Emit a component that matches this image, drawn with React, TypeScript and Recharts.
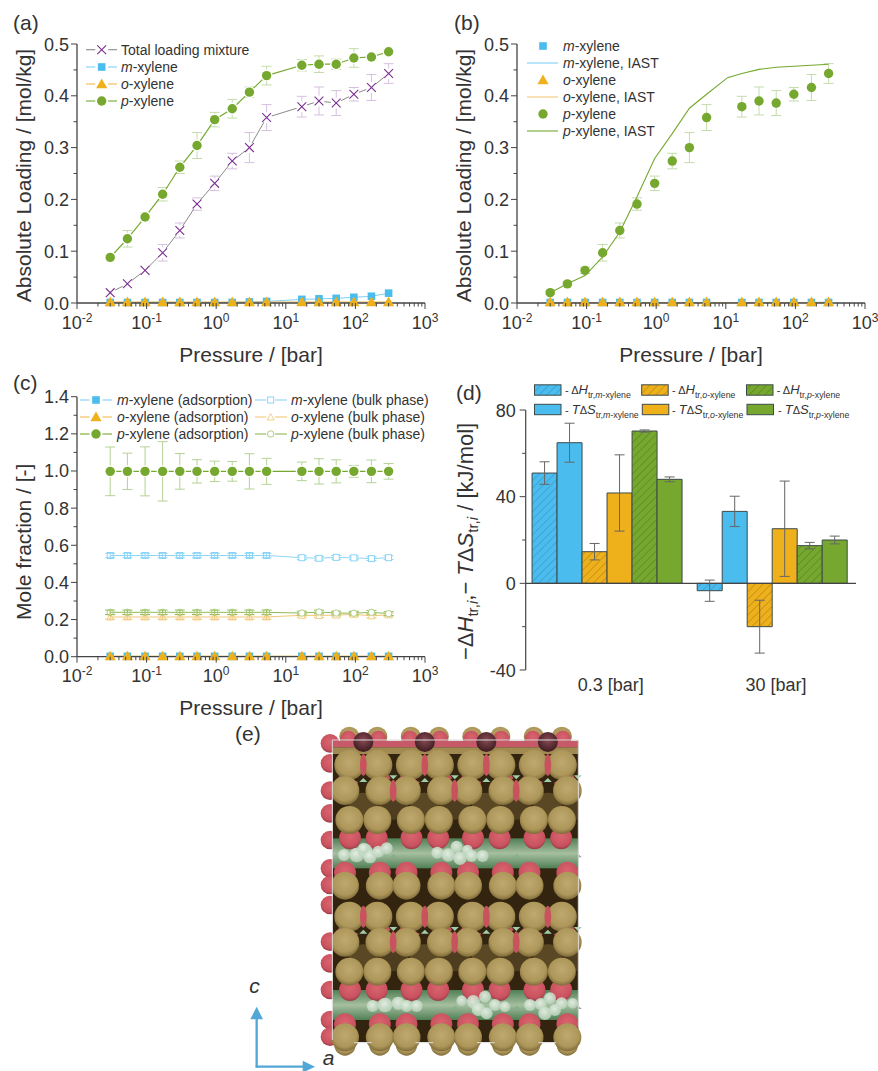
import { LineChart, Line, XAxis, YAxis, BarChart, Bar, ErrorBar, ReferenceLine } from 'recharts'

const FONT = '"Liberation Sans", Arial, sans-serif'
const INK = '#333333'
const AXIS = '#444444'
const BLUE = '#4bbcee'
const ORANGE = '#eeb11c'
const GREEN = '#76a82f'
const PURPLE = '#7b2f90'

const pressures = [0.03, 0.053, 0.095, 0.17, 0.3, 0.53, 0.95, 1.7, 3, 5.3, 17, 30, 53, 95, 170, 300]

// panel (a)
const totalLoading = [0.02, 0.037, 0.063, 0.097, 0.14, 0.191, 0.231, 0.274, 0.3, 0.358, 0.379, 0.39, 0.386, 0.403, 0.416, 0.443]
const totalErr = [0.003, 0.004, 0.006, 0.016, 0.0145, 0.012, 0.014, 0.015, 0.029, 0.025, 0.02, 0.027, 0.024, 0.013, 0.025, 0.019]
const pLoading = [0.088, 0.124, 0.166, 0.21, 0.262, 0.304, 0.354, 0.375, 0.407, 0.439, 0.459, 0.461, 0.461, 0.473, 0.475, 0.485]
const pErr = [0.004, 0.016, 0.008, 0.013, 0.012, 0.025, 0.014, 0.018, 0.01, 0.018, 0.011, 0.016, 0.01, 0.018, 0.006, 0.005]
const mLoading = [0.001, 0.001, 0.001, 0.001, 0.001, 0.001, 0.001, 0.001, 0.002, 0.003, 0.007, 0.008, 0.009, 0.011, 0.013, 0.019]
const oLoading = [0.002, 0.002, 0.002, 0.002, 0.002, 0.002, 0.002, 0.002, 0.002, 0.002, 0.002, 0.002, 0.002, 0.002, 0.002, 0.002]

// panel (b)
const mFlat = [0.001, 0.001, 0.001, 0.001, 0.001, 0.001, 0.001, 0.001, 0.001, 0.001, 0.001, 0.001, 0.001, 0.001, 0.001, 0.001]
const iastPressures = [0.03, 0.053, 0.095, 0.17, 0.3, 0.53, 0.95, 1.7, 3, 5.3, 10.6, 17, 30, 53, 95, 170, 300]
const iastP = [0.02, 0.037, 0.053, 0.089, 0.137, 0.205, 0.279, 0.327, 0.376, 0.403, 0.435, 0.443, 0.451, 0.455, 0.457, 0.459, 0.461]
const iastM = [0.001, 0.001, 0.001, 0.001, 0.001, 0.001, 0.001, 0.001, 0.001, 0.001, 0.001, 0.001, 0.001, 0.001, 0.001, 0.001, 0.002]
const iastO = [0.001, 0.001, 0.001, 0.001, 0.001, 0.001, 0.001, 0.001, 0.001, 0.001, 0.001, 0.001, 0.001, 0.001, 0.001, 0.001, 0.001]

// panel (c)
const mAds = [0.002, 0.002, 0.002, 0.002, 0.002, 0.002, 0.002, 0.002, 0.002, 0.002, 0.002, 0.002, 0.002, 0.002, 0.002, 0.002]
const oAds = [0.003, 0.003, 0.003, 0.003, 0.003, 0.003, 0.003, 0.003, 0.003, 0.003, 0.003, 0.003, 0.003, 0.003, 0.003, 0.003]
const pAds = [0.998, 0.998, 0.998, 0.998, 0.998, 0.998, 0.998, 0.998, 0.998, 0.998, 0.998, 0.998, 0.998, 0.998, 0.998, 0.998]
const pAdsErr = [0.131, 0.098, 0.132, 0.16, 0.096, 0.063, 0.055, 0.053, 0.095, 0.07, 0.05, 0.068, 0.062, 0.032, 0.061, 0.042]
const mBulk = [0.545, 0.545, 0.545, 0.545, 0.545, 0.545, 0.545, 0.545, 0.545, 0.545, 0.533, 0.53, 0.535, 0.532, 0.528, 0.533]
const oBulk = [0.214, 0.214, 0.214, 0.214, 0.214, 0.214, 0.214, 0.214, 0.214, 0.214, 0.223, 0.222, 0.224, 0.228, 0.22, 0.225]
const pBulk = [0.239, 0.239, 0.239, 0.239, 0.239, 0.239, 0.239, 0.239, 0.239, 0.239, 0.235, 0.241, 0.235, 0.234, 0.239, 0.232]
const bulkErr = [0.012, 0.012, 0.012, 0.012, 0.012, 0.012, 0.012, 0.012, 0.012, 0.012, 0.01, 0.01, 0.01, 0.01, 0.01, 0.01]

// panel (d)
const conditions = ['0.3 [bar]', '30 [bar]']
const mH = [50.9, -3.4]
const mHErr = [5.2, 4.9]
const mS = [64.9, 33.2]
const mSErr = [9, 7]
const oH = [14.6, -20]
const oHErr = [3.8, 12.2]
const oS = [41.7, 25.2]
const oSErr = [17.6, 22]
const pH = [70.3, 17.4]
const pHErr = [0.5, 1.5]
const pS = [48, 20]
const pSErr = [1.1, 1.8]

const logDecades = [0.01, 0.1, 1, 10, 100]
const logDigits = [1, 2, 3, 4, 5, 6, 7, 8, 9]
const logTicks = [...logDecades.flatMap(d => logDigits.map(n => n * d)), 1000]
const loadingTicks = [0, 0.05, 0.1, 0.15, 0.2, 0.25, 0.3, 0.35, 0.4, 0.45, 0.5]
const fractionTicks = [0, 0.1, 0.2, 0.3, 0.4, 0.5, 0.6, 0.7, 0.8, 0.9, 1, 1.1, 1.2, 1.3, 1.4]
const enthalpyTicks = [-40, -20, 0, 20, 40, 60, 80]

const table = pressures.map((p, i) => ({
  p,
  total: totalLoading[i],
  totalErr: totalErr[i],
  pLoad: pLoading[i],
  pErr: pErr[i],
  mLoad: mLoading[i],
  oLoad: oLoading[i],
  mFlat: mFlat[i],
  mAds: mAds[i],
  oAds: oAds[i],
  pAds: pAds[i],
  pAdsErr: pAdsErr[i],
  mBulk: mBulk[i],
  oBulk: oBulk[i],
  pBulk: pBulk[i],
  bulkErr: bulkErr[i],
}))

const iastTable = iastPressures.map((p, i) => ({ p, iastP: iastP[i], iastM: iastM[i], iastO: iastO[i] }))

const barTable = conditions.map((c, i) => ({
  c,
  mH: mH[i], mHErr: mHErr[i],
  mS: mS[i], mSErr: mSErr[i],
  oH: oH[i], oHErr: oHErr[i],
  oS: oS[i], oSErr: oSErr[i],
  pH: pH[i], pHErr: pHErr[i],
  pS: pS[i], pSErr: pSErr[i],
}))

function Marker({ cx, cy, sym, color, open, halo, see }: any) {
  const inner = see ? 'none' : '#fff'
  let shape = null
  if (sym === 'circle') shape = <circle cx={cx} cy={cy} r={open ? 3.2 : 4.7} fill={open ? inner : color} stroke={open ? color : 'none'} strokeWidth={0.9} />
  if (sym === 'square') shape = open
    ? <rect x={cx - 3} y={cy - 3} width={6} height={6} fill={inner} stroke={color} strokeWidth={0.9} />
    : <rect x={cx - 3.8} y={cy - 3.8} width={7.6} height={7.6} fill={color} />
  if (sym === 'triangle') shape = open
    ? <path d={`M${cx - 3.6} ${cy + 3}L${cx + 3.6} ${cy + 3}L${cx} ${cy - 3.4}Z`} fill={inner} stroke={color} strokeWidth={0.9} />
    : <path d={`M${cx - 5.6} ${cy + 4.2}L${cx + 5.6} ${cy + 4.2}L${cx} ${cy - 5.4}Z`} fill={color} />
  if (sym === 'cross') shape = (
    <path d={`M${cx - 4.4} ${cy - 4.4}L${cx + 4.4} ${cy + 4.4}M${cx - 4.4} ${cy + 4.4}L${cx + 4.4} ${cy - 4.4}`} stroke={color} strokeWidth={1.1} fill="none" />
  )
  return (
    <g>
      {halo && <circle cx={cx} cy={cy} r={halo} fill="#fff" />}
      {shape}
    </g>
  )
}

const dotOf = (sym: string, color: string, open = false, halo = 0) => (props: any) => (
  <Marker key={props.index} cx={props.cx} cy={props.cy} sym={sym} color={color} open={open} halo={halo} see={open && props.index < 10} />
)

function LogTick({ x, y, payload }: any) {
  const v = payload.value
  const e = Math.log10(v)
  const major = Math.abs(e - Math.round(e)) < 1e-6
  return (
    <g>
      <line x1={x} x2={x} y1={y} y2={y + (major ? 6 : 3.5)} stroke={AXIS} strokeWidth={1} />
      {major && (
        <text x={x} y={y + 25.5} textAnchor="middle" fontSize={18} fill={INK}>
          10<tspan dy={-7} fontSize={12}>{Math.round(e)}</tspan>
        </text>
      )}
    </g>
  )
}

const valueTick = (majors: number[], digits: number, gap = 8) => ({ x, y, payload }: any) => {
  const major = majors.includes(payload.value)
  return (
    <g>
      <line x1={x - (major ? 6 : 3.5)} x2={x} y1={y} y2={y} stroke={AXIS} strokeWidth={1} />
      {major && (
        <text x={x - gap} y={y + 6.5} textAnchor="end" fontSize={18} fill={INK}>
          {payload.value.toFixed(digits)}
        </text>
      )}
    </g>
  )
}

const BarLabelTick = ({ x, y, payload }: any) => (
  <text x={x + 2.5} y={y + 21} textAnchor="middle" fontSize={18} fill={INK}>{payload.value}</text>
)

const pressureAxis = (
  <XAxis
    dataKey="p"
    type="number"
    scale="log"
    domain={[0.01, 1000]}
    ticks={logTicks}
    interval={0}
    tick={LogTick}
    tickLine={false}
    tickSize={0}
    tickMargin={0}
    stroke={AXIS}
    strokeWidth={1.3}
    allowDataOverflow
    height={67}
  />
)

function PanelA() {
  return (
    <LineChart width={440} height={370} data={table} margin={{ top: 44, right: 15, left: 0, bottom: 0 }}>
      {pressureAxis}
      <YAxis type="number" domain={[0, 0.5]} ticks={loadingTicks} interval={0} width={77} tick={valueTick([0, 0.1, 0.2, 0.3, 0.4, 0.5], 1)} tickLine={false} tickSize={0} tickMargin={0} stroke={AXIS} strokeWidth={1.3} />
      <Line dataKey="total" stroke="#8a8a8a" strokeWidth={1} isAnimationActive={false} dot={dotOf('cross', PURPLE, false, 5.5)}>
        <ErrorBar dataKey="totalErr" direction="y" width={5} stroke="#d6c0e0" strokeWidth={1} />
      </Line>
      <Line dataKey="mLoad" stroke="#7fd0f5" strokeWidth={1} isAnimationActive={false} dot={dotOf('square', BLUE)} />
      <Line dataKey="oLoad" stroke="#f2bc55" strokeWidth={1} isAnimationActive={false} dot={dotOf('triangle', ORANGE)} />
      <Line dataKey="pLoad" stroke={GREEN} strokeWidth={1.2} isAnimationActive={false} dot={dotOf('circle', GREEN, false, 6)}>
        <ErrorBar dataKey="pErr" direction="y" width={5} stroke="#c4dcaa" strokeWidth={1} />
      </Line>
    </LineChart>
  )
}

function PanelB() {
  return (
    <LineChart width={438} height={370} data={table} margin={{ top: 44, right: 13, left: 0, bottom: 0 }}>
      {pressureAxis}
      <YAxis type="number" domain={[0, 0.5]} ticks={loadingTicks} interval={0} width={77} tick={valueTick([0, 0.1, 0.2, 0.3, 0.4, 0.5], 1)} tickLine={false} tickSize={0} tickMargin={0} stroke={AXIS} strokeWidth={1.3} />
      <Line dataKey="mFlat" stroke="none" isAnimationActive={false} dot={dotOf('square', BLUE)} />
      <Line data={iastTable} dataKey="iastM" stroke="#7fd0f5" strokeWidth={1} isAnimationActive={false} dot={false} />
      <Line dataKey="oLoad" stroke="none" isAnimationActive={false} dot={dotOf('triangle', ORANGE)} />
      <Line data={iastTable} dataKey="iastO" stroke="#f2c878" strokeWidth={1} isAnimationActive={false} dot={false} />
      <Line dataKey="total" stroke="none" isAnimationActive={false} dot={dotOf('circle', GREEN)}>
        <ErrorBar dataKey="totalErr" direction="y" width={5} stroke="#c4dcaa" strokeWidth={1} />
      </Line>
      <Line data={iastTable} dataKey="iastP" stroke={GREEN} strokeWidth={1.1} isAnimationActive={false} dot={false} />
    </LineChart>
  )
}

function PanelC() {
  return (
    <LineChart width={440} height={360} data={table} margin={{ top: 26.7, right: 15, left: 0, bottom: 0 }}>
      <XAxis
        dataKey="p"
        type="number"
        scale="log"
        domain={[0.01, 1000]}
        ticks={logTicks}
        interval={0}
        tick={LogTick}
        tickLine={false}
        tickSize={0}
        tickMargin={0}
        stroke={AXIS}
        strokeWidth={1.3}
        allowDataOverflow
        height={73.3}
      />
      <YAxis type="number" domain={[0, 1.4]} ticks={fractionTicks} interval={0} width={77} tick={valueTick([0, 0.2, 0.4, 0.6, 0.8, 1, 1.2, 1.4], 1)} tickLine={false} tickSize={0} tickMargin={0} stroke={AXIS} strokeWidth={1.3} />
      <Line dataKey="mBulk" stroke="#8fd6f6" strokeWidth={1} isAnimationActive={false} dot={dotOf('square', '#7fd0f5', true)}>
        <ErrorBar dataKey="bulkErr" direction="y" width={5} stroke="#8fd6f6" strokeWidth={1} />
      </Line>
      <Line dataKey="oBulk" stroke="#f2c878" strokeWidth={1} isAnimationActive={false} dot={dotOf('triangle', '#f2c878', true)}>
        <ErrorBar dataKey="bulkErr" direction="y" width={5} stroke="#f2c878" strokeWidth={1} />
      </Line>
      <Line dataKey="pBulk" stroke="#8fbb55" strokeWidth={1} isAnimationActive={false} dot={dotOf('circle', '#a3c873', true)}>
        <ErrorBar dataKey="bulkErr" direction="y" width={5} stroke="#8fbb55" strokeWidth={1} />
      </Line>
      <Line dataKey="mAds" stroke="#7fd0f5" strokeWidth={1} isAnimationActive={false} dot={dotOf('square', BLUE)} />
      <Line dataKey="oAds" stroke="#f2bc55" strokeWidth={1} isAnimationActive={false} dot={dotOf('triangle', ORANGE)} />
      <Line dataKey="pAds" stroke={GREEN} strokeWidth={1.2} isAnimationActive={false} dot={dotOf('circle', GREEN, false, 6)}>
        <ErrorBar dataKey="pAdsErr" direction="y" width={5} stroke="#b5d295" strokeWidth={1} />
      </Line>
    </LineChart>
  )
}

function Hatch({ id, base, line }: any) {
  return (
    <pattern id={id} width={5.5} height={5.5} patternUnits="userSpaceOnUse" patternTransform="rotate(45)">
      <rect width={5.5} height={5.5} fill={base} />
      <line x1={0} x2={0} y1={0} y2={5.5} stroke={line} strokeWidth={1} />
    </pattern>
  )
}

const barStroke = { stroke: '#3d4a4a', strokeWidth: 1 }
const errProps = { direction: 'y' as const, width: 5, stroke: '#666666', strokeWidth: 1 }

function PanelD() {
  return (
    <BarChart width={438} height={360} data={barTable} margin={{ top: 40, right: 22, left: 0, bottom: 0 }} barCategoryGap={6.35} barGap={0}>
      <defs>
        <Hatch id="hatchBlue" base={BLUE} line="#2f8fbf" />
        <Hatch id="hatchOrange" base={ORANGE} line="#a87c10" />
        <Hatch id="hatchGreen" base={GREEN} line="#4e7a1c" />
      </defs>
      <XAxis dataKey="c" axisLine={false} tickLine={false} tickSize={0} tickMargin={0} tick={BarLabelTick} height={60} interval={0} />
      <YAxis type="number" domain={[-40, 80]} ticks={enthalpyTicks} interval={0} width={85.7} tick={valueTick([-40, 0, 40, 80], 0, 10)} tickLine={false} tickSize={0} tickMargin={0} stroke={AXIS} strokeWidth={1.2} />
      <ReferenceLine y={0} stroke={AXIS} strokeWidth={1.2} />
      <Bar dataKey="mH" fill="url(#hatchBlue)" {...barStroke} isAnimationActive={false}><ErrorBar dataKey="mHErr" {...errProps} /></Bar>
      <Bar dataKey="mS" fill={BLUE} {...barStroke} isAnimationActive={false}><ErrorBar dataKey="mSErr" {...errProps} /></Bar>
      <Bar dataKey="oH" fill="url(#hatchOrange)" {...barStroke} isAnimationActive={false}><ErrorBar dataKey="oHErr" {...errProps} /></Bar>
      <Bar dataKey="oS" fill={ORANGE} {...barStroke} isAnimationActive={false}><ErrorBar dataKey="oSErr" {...errProps} /></Bar>
      <Bar dataKey="pH" fill="url(#hatchGreen)" {...barStroke} isAnimationActive={false}><ErrorBar dataKey="pHErr" {...errProps} /></Bar>
      <Bar dataKey="pS" fill={GREEN} {...barStroke} isAnimationActive={false}><ErrorBar dataKey="pSErr" {...errProps} /></Bar>
    </BarChart>
  )
}

const xyl = (prefix: string, rest = '-xylene') => (
  <>
    <tspan fontStyle="italic">{prefix}</tspan>{rest}
  </>
)

function Key({ x1, x2, sx, tx, y, stroke, sym, color, open, children }: any) {
  return (
    <g>
      {stroke && <line x1={x1} x2={x2} y1={y} y2={y} stroke={stroke} strokeWidth={1.1} />}
      {sym && <Marker cx={sx} cy={y} sym={sym} color={color} open={open} halo={stroke && !open ? 6.5 : stroke ? 4.5 : 0} />}
      <text x={tx} y={y + 5} fontSize={14} fill={INK}>{children}</text>
    </g>
  )
}

function Legends() {
  const a = { x1: 86, x2: 117, sx: 101.7, tx: 121 }
  const b = { x1: 527, x2: 558, sx: 543, tx: 563 }
  const c1 = { x1: 80, x2: 112, sx: 96, tx: 117 }
  const c2 = { x1: 255, x2: 287, sx: 270.7, tx: 291 }
  return (
    <g>
      <Key {...a} y={49.7} stroke="#8a8a8a" sym="cross" color={PURPLE}>Total loading mixture</Key>
      <Key {...a} y={67} stroke="#7fd0f5" sym="square" color={BLUE}>{xyl('m')}</Key>
      <Key {...a} y={84} stroke="#f2bc55" sym="triangle" color={ORANGE}>{xyl('o')}</Key>
      <Key {...a} y={101} stroke={GREEN} sym="circle" color={GREEN}>{xyl('p')}</Key>

      <Key {...b} y={46} sym="square" color={BLUE}>{xyl('m')}</Key>
      <Key {...b} y={63} stroke="#7fd0f5">{xyl('m', '-xylene, IAST')}</Key>
      <Key {...b} y={80} sym="triangle" color={ORANGE}>{xyl('o')}</Key>
      <Key {...b} y={97} stroke="#f2c878">{xyl('o', '-xylene, IAST')}</Key>
      <Key {...b} y={114} sym="circle" color={GREEN}>{xyl('p')}</Key>
      <Key {...b} y={131} stroke={GREEN}>{xyl('p', '-xylene, IAST')}</Key>

      <Key {...c1} y={400} stroke="#7fd0f5" sym="square" color={BLUE}>{xyl('m', '-xylene (adsorption)')}</Key>
      <Key {...c1} y={417} stroke="#f2bc55" sym="triangle" color={ORANGE}>{xyl('o', '-xylene (adsorption)')}</Key>
      <Key {...c1} y={434} stroke={GREEN} sym="circle" color={GREEN}>{xyl('p', '-xylene (adsorption)')}</Key>
      <Key {...c2} y={400} stroke="#8fd6f6" sym="square" color="#7fd0f5" open>{xyl('m', '-xylene (bulk phase)')}</Key>
      <Key {...c2} y={417} stroke="#f2c878" sym="triangle" color="#f2c878" open>{xyl('o', '-xylene (bulk phase)')}</Key>
      <Key {...c2} y={434} stroke="#8fbb55" sym="circle" color="#a3c873" open>{xyl('p', '-xylene (bulk phase)')}</Key>
    </g>
  )
}

function BarKey({ x, y, tx, fill, T, letter, sp }: any) {
  return (
    <g>
      <rect x={x} y={y - 5.2} width={26.5} height={10.4} fill={fill} stroke="#3d4a4a" strokeWidth={1} />
      <text x={tx} y={y + 4} fontSize={11} fill={INK}>
        - {T && <tspan fontSize={13} fontStyle="italic">T</tspan>}Δ<tspan fontSize={13} fontStyle="italic">{letter}</tspan>
        <tspan dy={4} fontSize={8.8}>tr,</tspan><tspan fontSize={8.8} fontStyle="italic">{sp}</tspan><tspan fontSize={8.8}>-xylene</tspan>
      </text>
    </g>
  )
}

function BarLegend() {
  return (
    <g>
      <BarKey x={534.5} y={390} tx={565} fill="url(#hatchBlue)" letter="H" sp="m" />
      <BarKey x={641.7} y={390} tx={672} fill="url(#hatchOrange)" letter="H" sp="o" />
      <BarKey x={746.5} y={390} tx={776.7} fill="url(#hatchGreen)" letter="H" sp="p" />
      <BarKey x={534.5} y={409.5} tx={565} fill={BLUE} T letter="S" sp="m" />
      <BarKey x={642.3} y={409.5} tx={672} fill={ORANGE} T letter="S" sp="o" />
      <BarKey x={747} y={409.5} tx={778} fill={GREEN} T letter="S" sp="p" />
    </g>
  )
}

function Titles() {
  return (
    <g fill={INK} fontSize={21}>
      <text x={13} y={30}>(a)</text>
      <text x={454} y={30}>(b)</text>
      <text x={13} y={390}>(c)</text>
      <text x={456} y={400}>(d)</text>
      <text x={235} y={741}>(e)</text>

      <text x={251} y={361.7} textAnchor="middle">Pressure / [bar]</text>
      <text x={691} y={361.7} textAnchor="middle">Pressure / [bar]</text>
      <text x={251} y={715} textAnchor="middle">Pressure / [bar]</text>

      <text transform="translate(30.7 175.5) rotate(-90)" textAnchor="middle">Absolute Loading / [mol/kg]</text>
      <text transform="translate(471 175.5) rotate(-90)" textAnchor="middle">Absolute Loading / [mol/kg]</text>
      <text transform="translate(30.7 541.8) rotate(-90)" textAnchor="middle">Mole fraction / [-]</text>

      <text transform="translate(473 660) rotate(-90)" fontSize={22}>
        −Δ<tspan fontStyle="italic">H</tspan><tspan dy={5} fontSize={15}>tr,</tspan><tspan fontSize={15} fontStyle="italic">i</tspan>
        <tspan dy={-5}>,− </tspan><tspan fontStyle="italic">T</tspan>Δ<tspan fontStyle="italic">S</tspan>
        <tspan dy={5} fontSize={15}>tr,</tspan><tspan fontSize={15} fontStyle="italic">i</tspan><tspan dy={-5}> / [kJ/mol]</tspan>
      </text>
    </g>
  )
}

// panel (e): structure picture, coordinates are in crop pixels (3x) and scaled down
const periodX = 184.5
const periodY = 455
const cellsX = [0, 1, 2, 3]
const cellsY = [0, 1]
const pairCentres = [305, 489.5, 674, 858.5, 1052]
const leftAtoms = [70, 130, 212, 280, 360, 445, 495, 555, 665, 730, 810, 900, 950]
const moleculeAtoms = [
  [342, 405, 18], [380, 405, 22], [405, 392, 22], [420, 410, 20], [400, 385, 16], [445, 395, 18], [470, 385, 18],
  [622, 398, 18], [655, 405, 20], [680, 380, 18], [712, 390, 16], [690, 415, 20], [725, 408, 18], [758, 408, 18],
  [428, 858, 18], [465, 855, 22], [505, 850, 20], [530, 858, 18], [560, 858, 18],
  [695, 842, 16], [730, 845, 20], [765, 830, 18], [745, 868, 20], [795, 855, 18], [825, 860, 16], [770, 880, 18],
  [900, 855, 18], [932, 852, 18], [960, 835, 18], [995, 850, 18], [1028, 850, 16], [945, 880, 20], [975, 870, 18],
]

function Atom({ x, y, r, kind }: any) {
  return <circle cx={x} cy={y} r={r} fill={`url(#atom${kind})`} />
}

const inPair = (x: number) => x > 330 && x < 1020

function Structure() {
  return (
    <g transform="translate(230 720) scale(0.33333)">
      <defs>
        <radialGradient id="atomTan" cx="0.5" cy="0.42" r="0.6">
          <stop offset="0" stopColor="#bfa970" />
          <stop offset="0.7" stopColor="#ac9659" />
          <stop offset="1" stopColor="#7a6636" />
        </radialGradient>
        <radialGradient id="atomRed" cx="0.5" cy="0.4" r="0.6">
          <stop offset="0" stopColor="#d9646f" />
          <stop offset="0.75" stopColor="#c9525f" />
          <stop offset="1" stopColor="#9a3b47" />
        </radialGradient>
        <radialGradient id="atomDark" cx="0.5" cy="0.4" r="0.6">
          <stop offset="0" stopColor="#8a4a55" />
          <stop offset="1" stopColor="#3c1c20" />
        </radialGradient>
        <radialGradient id="atomMol" cx="0.45" cy="0.4" r="0.6">
          <stop offset="0" stopColor="#eaf3e8" />
          <stop offset="1" stopColor="#b6d0b8" />
        </radialGradient>
        <linearGradient id="channel" x1="0" x2="0" y1="0" y2="1">
          <stop offset="0" stopColor="#4f7f55" />
          <stop offset="0.5" stopColor="#a6bf9f" />
          <stop offset="1" stopColor="#4f7f55" />
        </linearGradient>
        <clipPath id="cellClip">
          <rect x={308} y={62} width={737} height={905} />
        </clipPath>
      </defs>

      {leftAtoms.map(y => <Atom key={y} x={300} y={y} r={28} kind="Red" />)}
      {cellsX.map(i => (
        <g key={i}>
          <Atom x={358 + periodX * i} y={50} r={30} kind="Tan" />
          <Atom x={442 + periodX * i} y={50} r={30} kind="Tan" />
          <Atom x={355 + periodX * i} y={56} r={24} kind="Red" />
          <Atom x={445 + periodX * i} y={56} r={24} kind="Red" />
        </g>
      ))}
      {pairCentres.map(c => (
        <g key={c}>
          {inPair(c - 40) && <Atom x={c - 40} y={975} r={32} kind="Tan" />}
          {inPair(c + 40) && <Atom x={c + 40} y={975} r={32} kind="Tan" />}
        </g>
      ))}

      <g clipPath="url(#cellClip)">
        <rect x={308} y={62} width={740} height={905} fill="#33240f" />
        <rect x={308} y={62} width={740} height={20} fill="#c65a68" />
        <rect x={308} y={82} width={740} height={20} fill="#a08a52" />
        {cellsY.map(j => {
          const dy = j * periodY
          return (
            <g key={j}>
              <rect x={308} y={355 + dy} width={740} height={90} fill="url(#channel)" />
              {cellsX.map(i => (
                <circle key={i} cx={400 + periodX * i} cy={262 + dy} r={44} fill="#5a4824" />
              ))}
              {cellsX.map(i => (
                <circle key={i} cx={490 + periodX * i} cy={255 + dy} r={44} fill="#4e3d1e" />
              ))}
            </g>
          )
        })}
      </g>
      {cellsX.map(i => <Atom key={i} x={400 + periodX * i} y={66} r={30} kind="Dark" />)}

      {cellsY.map(j => {
        const dy = j * periodY
        return (
          <g key={j}>
            {cellsX.map(i => (
              <g key={i}>
                <path d={`M${330 + periodX * i} ${165 + dy}L${385 + periodX * i} ${186 + dy}L${380 + periodX * i} ${194 + dy}L${322 + periodX * i} ${176 + dy}Z`} fill="#c9525f" />
                <path d={`M${418 + periodX * i} ${188 + dy}L${476 + periodX * i} ${165 + dy}L${482 + periodX * i} ${176 + dy}L${425 + periodX * i} ${196 + dy}Z`} fill="#c9525f" />
                <path d={`M${388 + periodX * i} ${186 + dy}L${412 + periodX * i} ${186 + dy}L${400 + periodX * i} ${174 + dy}Z`} fill="#9fcfa8" />
                <path d={`M${478 + periodX * i} ${166 + dy}L${502 + periodX * i} ${166 + dy}L${490 + periodX * i} ${178 + dy}Z`} fill="#9fcfa8" />
                <Atom x={358 + periodX * i} y={135 + dy} r={45} kind="Tan" />
                <Atom x={442 + periodX * i} y={135 + dy} r={45} kind="Tan" />
                <ellipse cx={400 + periodX * i} cy={135 + dy} rx={10} ry={33} fill="#c9525f" />
              </g>
            ))}
            {pairCentres.map(c => (
              <g key={c}>
                {inPair(c - 40) && <Atom x={c - 40} y={212 + dy} r={43} kind="Tan" />}
                {inPair(c + 40) && <Atom x={c + 40} y={212 + dy} r={43} kind="Tan" />}
                {inPair(c) && <ellipse cx={c} cy={212 + dy} rx={10} ry={33} fill="#c9525f" />}
              </g>
            ))}
            {cellsX.map(i => (
              <g key={i}>
                <Atom x={360 + periodX * i} y={355 + dy} r={33} kind="Red" />
                <Atom x={440 + periodX * i} y={355 + dy} r={33} kind="Red" />
                <Atom x={358 + periodX * i} y={300 + dy} r={42} kind="Tan" />
                <Atom x={442 + periodX * i} y={300 + dy} r={42} kind="Tan" />
                <path d={`M${480 + periodX * i} ${412 + dy}L${502 + periodX * i} ${412 + dy}L${491 + periodX * i} ${402 + dy}Z`} fill="#86b08c" />
              </g>
            ))}
            {pairCentres.map(c => (
              <g key={c}>
                {inPair(c - 40) && <Atom x={c - 40} y={458 + dy} r={33} kind="Red" />}
                {inPair(c + 40) && <Atom x={c + 40} y={458 + dy} r={33} kind="Red" />}
                {inPair(c - 40) && <Atom x={c - 40} y={497 + dy} r={42} kind="Tan" />}
                {inPair(c + 40) && <Atom x={c + 40} y={497 + dy} r={42} kind="Tan" />}
              </g>
            ))}
          </g>
        )
      })}

      {moleculeAtoms.map(([x, y, r], i) => <circle key={i} cx={x} cy={y} r={r} fill="url(#atomMol)" fillOpacity={0.88} />)}

      <path d="M307 960V60H1045V920" fill="none" stroke="#dcdcdc" strokeWidth={3} />
      {cellsX.map(i => (
        <line key={i} x1={372 + periodX * i} x2={425 + periodX * i} y1={968} y2={968} stroke="#e0e0e0" strokeWidth={3} />
      ))}

      <g stroke="#52a7d6" strokeWidth={7} fill="#52a7d6">
        <line x1={80} x2={80} y1={1043} y2={890} />
        <line x1={77} x2={222} y1={1040} y2={1040} />
        <path d="M61 898L99 898L80 860Z" stroke="none" />
        <path d="M218 1022L218 1058L255 1040Z" stroke="none" />
      </g>
      <text x={58} y={818} fontSize={63} fontStyle="italic" fill={INK}>c</text>
      <text x={278} y={1036} fontSize={63} fontStyle="italic" fill={INK}>a</text>
    </g>
  )
}

export default function App() {
  return (
    <div style={{ position: 'absolute', left: 0, top: 0, width: 878, height: 1071, background: '#fff', fontFamily: FONT, overflow: 'hidden' }}>
      <div style={{ position: 'absolute', left: 0, top: 0 }}><PanelA /></div>
      <div style={{ position: 'absolute', left: 440, top: 0 }}><PanelB /></div>
      <div style={{ position: 'absolute', left: 0, top: 370 }}><PanelC /></div>
      <div style={{ position: 'absolute', left: 440, top: 370 }}><PanelD /></div>
      <svg width={878} height={1071} style={{ position: 'absolute', left: 0, top: 0, pointerEvents: 'none' }}>
        <Titles />
        <Legends />
        <BarLegend />
        <Structure />
      </svg>
    </div>
  )
}
